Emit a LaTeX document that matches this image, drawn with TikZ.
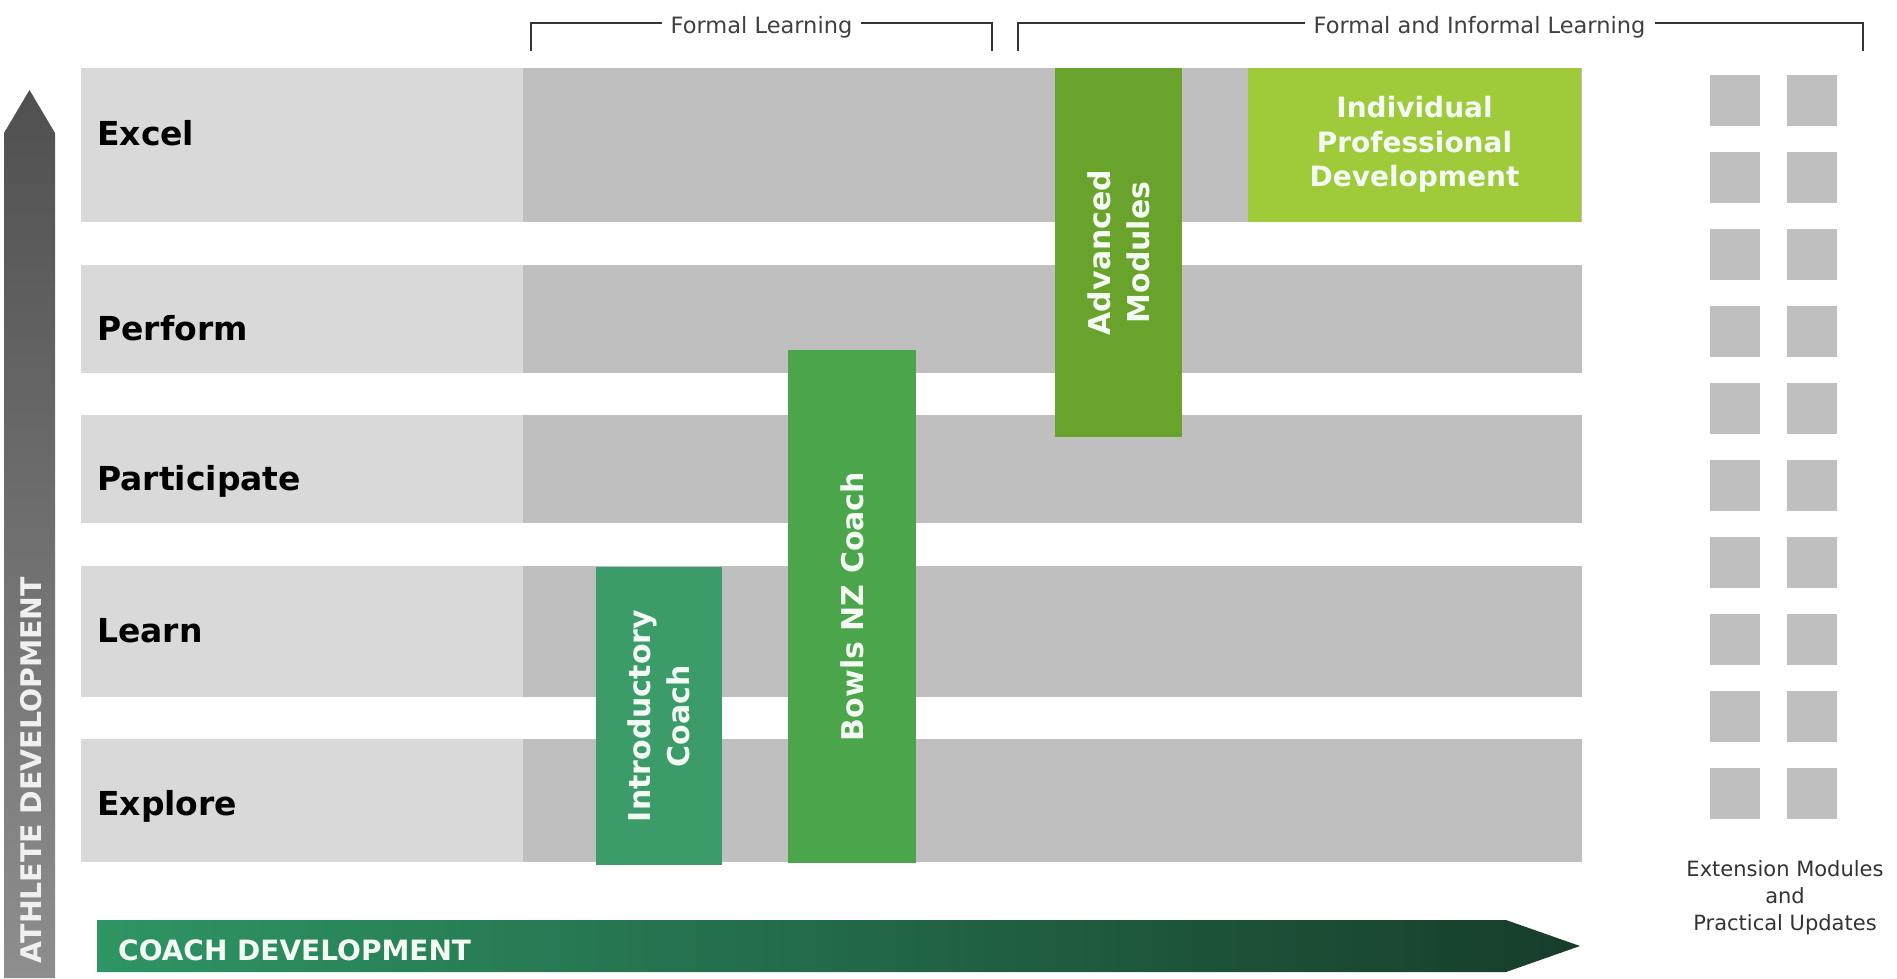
\documentclass[tikz,border=0pt]{standalone}
\usepackage{fontspec}
\setmainfont{DejaVu Sans}
\definecolor{lgrey}{HTML}{D9D9D9}
\definecolor{dgrey}{HTML}{BFBFBF}
\definecolor{introG}{HTML}{3C9C69}
\definecolor{bowlsG}{HTML}{4BA54B}
\definecolor{advG}{HTML}{6AA32B}
\definecolor{ipdG}{HTML}{9FCA3A}
\definecolor{coachL}{HTML}{2E9565}
\definecolor{coachR}{HTML}{173D2A}
\definecolor{athTop}{HTML}{505050}
\definecolor{athBot}{HTML}{8E8E8E}
\definecolor{brk}{HTML}{333333}
\definecolor{brtext}{HTML}{404040}
\definecolor{lbltext}{HTML}{F4FBF4}
\begin{document}
\begin{tikzpicture}[x=1pt,y=-1pt,
  box/.style={rectangle, inner sep=0pt, outer sep=0pt, anchor=north west, draw=none},
  rowlabel/.style={anchor=base west, inner sep=0pt, font=\fontsize{33}{40}\selectfont\bfseries, text=black},
  barlabel/.style={rotate=90, align=center, inner sep=0pt, text=lbltext, font=\fontsize{30}{39}\selectfont\bfseries},
  brlabel/.style={anchor=base, inner xsep=9pt, inner ysep=0pt, text=brtext, font=\fontsize{22.5}{27}\selectfont},
  bracket/.style={draw=brk, line width=2pt},
  sq/.style={box, fill=dgrey, minimum width=50pt, minimum height=51pt}
]
\useasboundingbox (0,0) rectangle (1897,978);

% rows
\node[box, fill=lgrey, minimum width=442pt, minimum height=154pt] (excelL) at (81,68) {};
\node[box, fill=dgrey, minimum width=1059pt, minimum height=154pt] (excelD) at (523,68) {};
\node[box, fill=lgrey, minimum width=442pt, minimum height=108pt] (performL) at (81,265) {};
\node[box, fill=dgrey, minimum width=1059pt, minimum height=108pt] (performD) at (523,265) {};
\node[box, fill=lgrey, minimum width=442pt, minimum height=108pt] (partL) at (81,415) {};
\node[box, fill=dgrey, minimum width=1059pt, minimum height=108pt] (partD) at (523,415) {};
\node[box, fill=lgrey, minimum width=442pt, minimum height=131pt] (learnL) at (81,566) {};
\node[box, fill=dgrey, minimum width=1059pt, minimum height=131pt] (learnD) at (523,566) {};
\node[box, fill=lgrey, minimum width=442pt, minimum height=123pt] (exploreL) at (81,739) {};
\node[box, fill=dgrey, minimum width=1059pt, minimum height=123pt] (exploreD) at (523,739) {};

% row labels
\node[rowlabel] (tExcel) at (97,145) {Excel};
\node[rowlabel] (tPerform) at (97,340) {Perform};
\node[rowlabel] (tPart) at (97,490) {Participate};
\node[rowlabel] (tLearn) at (97,642) {Learn};
\node[rowlabel] (tExplore) at (97,815) {Explore};

% green bars
\node[box, fill=introG, minimum width=126pt, minimum height=298pt] (intro) at (596,567) {};
\node[box, fill=bowlsG, minimum width=128pt, minimum height=513pt] (bowls) at (788,350) {};
\node[box, fill=advG, minimum width=127pt, minimum height=369pt] (adv) at (1055,68) {};
\node[box, fill=ipdG, minimum width=333pt, minimum height=154pt] (ipd) at (1248,68) {};

\node[barlabel] (tIntro) at (intro.center) {Introductory\\Coach};
\node[barlabel] (tBowls) at (bowls.center) {Bowls NZ Coach};
\node[barlabel] (tAdv) at (adv.center) {Advanced\\Modules};
\node[align=center, inner sep=0pt, text=lbltext, font=\fontsize{28}{34.5}\selectfont\bfseries] (tIpd) at ([yshift=0.5pt]ipd.center) {Individual\\Professional\\Development};

% extension squares
\foreach \i in {0,...,9}{
  \node[sq] (sqa\i) at (1710,75+77*\i) {};
  \node[sq] (sqb\i) at (1787,75+77*\i) {};
}
\node[align=center, inner sep=0pt, text=brk, font=\fontsize{21}{27}\selectfont] (tExt) at (1785,898) {Extension Modules\\and\\Practical Updates};

% brackets
\coordinate (flA) at (531,51);
\coordinate (flB) at (992,51);
\coordinate (flY) at (0,23);
\node[brlabel] (flab) at (761.5,33) {Formal Learning};
\draw[bracket] (flA) |- (flab.west |- flY);
\draw[bracket] (flab.east |- flY) -| (flB);
\coordinate (fiA) at (1018,51);
\coordinate (fiB) at (1863,51);
\node[brlabel] (filab) at (1479.5,33) {Formal and Informal Learning};
\draw[bracket] (fiA) |- (filab.west |- flY);
\draw[bracket] (filab.east |- flY) -| (fiB);

% athlete development arrow
\coordinate (athTip) at (29.5,90);
\shade[top color=athTop, bottom color=athBot] (4,978) -- (4,133) -- (athTip) -- (55,133) -- (55,978) -- cycle;
\node[rotate=90, inner sep=0pt, text=white!94!black, font=\fontsize{28.4}{34}\selectfont\bfseries] (tAth) at (31,770) {ATHLETE DEVELOPMENT};

% coach development arrow
\coordinate (coachTip) at (1580,946);
\shade[left color=coachL, right color=coachR] (97,920) -- (1506,920) -- (coachTip) -- (1506,972) -- (97,972) -- cycle;
\node[anchor=base west, inner sep=0pt, text=lbltext, font=\fontsize{28}{34}\selectfont\bfseries] (tCoach) at (118,960) {COACH DEVELOPMENT};
\end{tikzpicture}
\end{document}
